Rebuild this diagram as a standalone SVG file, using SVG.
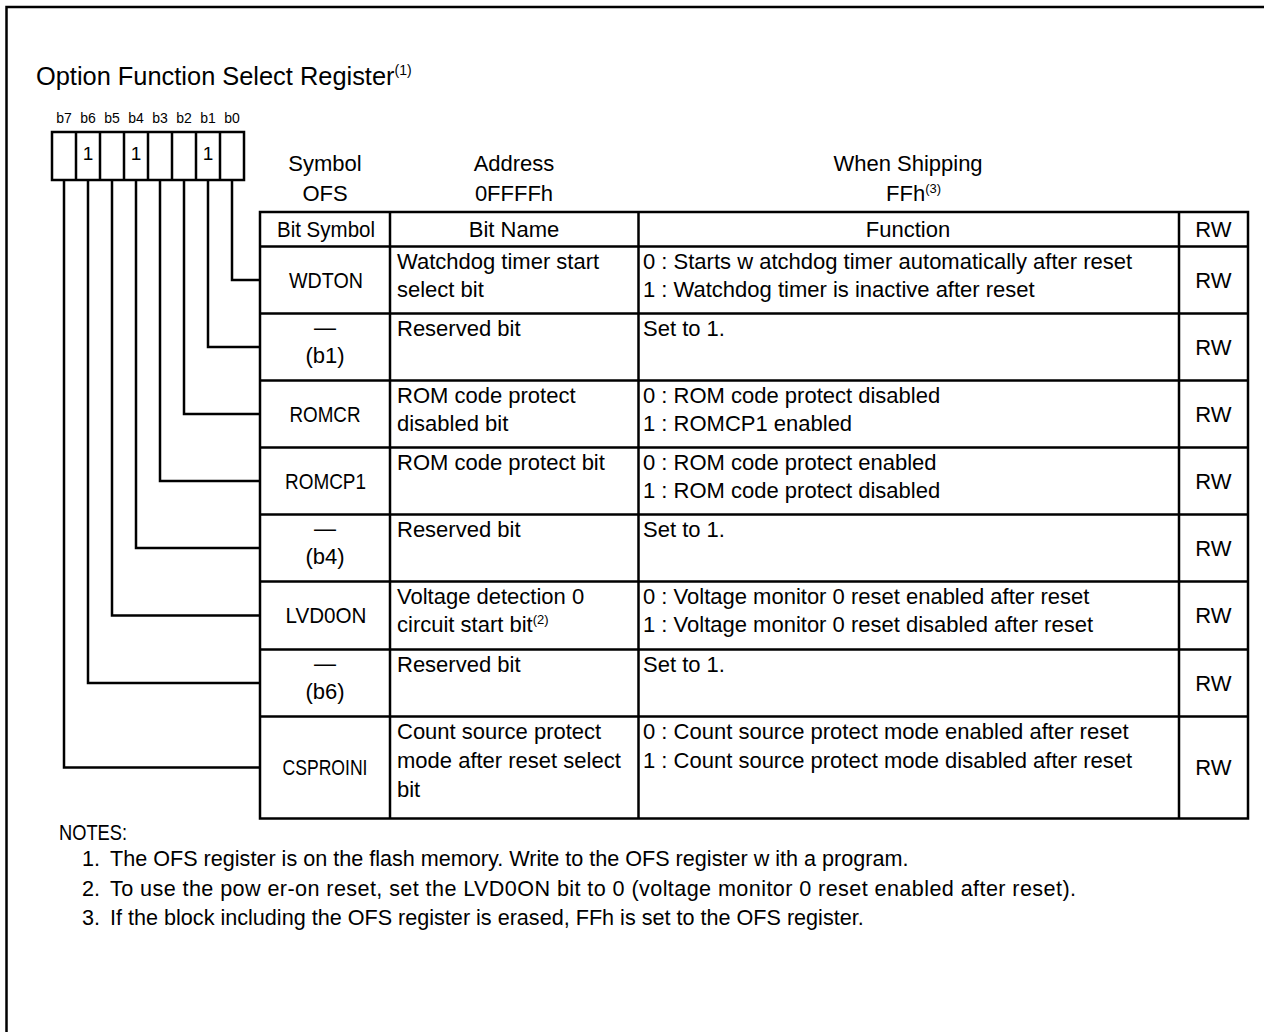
<svg xmlns="http://www.w3.org/2000/svg" width="1264" height="1032" viewBox="0 0 1264 1032">
<style>
.ln{stroke:#000;stroke-width:2.5;fill:none}
.t{font-family:"Liberation Sans",Arial,sans-serif;font-size:22px;fill:#000}
.c{text-anchor:middle}
.sm{font-size:13px}
.bl{font-family:"Liberation Sans",Arial,sans-serif;font-size:14px;fill:#000;text-anchor:middle}
.one{font-family:"Liberation Sans",Arial,sans-serif;font-size:19px;fill:#000;text-anchor:middle}
.n{font-size:21.6px}
</style>
<rect x="0" y="0" width="1264" height="1032" fill="#fff"/>
<g id="frame">
<path class="ln" d="M6.5 1032 V7 H1264"/>
</g>
<g id="title">
<text class="t" x="36" y="84.5" style="font-size:25.4px">Option Function Select Register<tspan style="font-size:14px" dy="-10">(1)</tspan></text>
</g>
<g id="bit-register">
<text class="bl" x="64" y="123">b7</text>
<text class="bl" x="88" y="123">b6</text>
<text class="bl" x="112" y="123">b5</text>
<text class="bl" x="136" y="123">b4</text>
<text class="bl" x="160" y="123">b3</text>
<text class="bl" x="184" y="123">b2</text>
<text class="bl" x="208" y="123">b1</text>
<text class="bl" x="232" y="123">b0</text>
<rect class="ln" x="52" y="132" width="192" height="48"/>
<path class="ln" d="M76 132V180M100 132V180M124 132V180M148 132V180M172 132V180M196 132V180M220 132V180"/>
<text class="one" x="88" y="160">1</text>
<text class="one" x="136" y="160">1</text>
<text class="one" x="208" y="160">1</text>
</g>
<g id="connectors">
<path class="ln" d="M232 180V280H260"/>
<path class="ln" d="M208 180V347H260"/>
<path class="ln" d="M184 180V414H260"/>
<path class="ln" d="M160 180V481H260"/>
<path class="ln" d="M136 180V548H260"/>
<path class="ln" d="M112 180V615.5H260"/>
<path class="ln" d="M88 180V683H260"/>
<path class="ln" d="M64 180V767.5H260"/>
</g>
<g id="header">
<text class="t c" x="325" y="171">Symbol</text>
<text class="t c" x="325" y="201">OFS</text>
<text class="t c" x="514" y="171">Address</text>
<text class="t c" x="514" y="201">0FFFFh</text>
<text class="t c" x="908" y="171">When Shipping</text>
<text class="t" x="886" y="201">FFh<tspan class="sm" dy="-8">(3)</tspan></text>
</g>
<g id="table">
<rect class="ln" x="260" y="212" width="988" height="606.5"/>
<path class="ln" d="M390 212V818.5M638.5 212V818.5M1179 212V818.5"/>
<path class="ln" d="M260 246.5H1248M260 313.5H1248M260 380.5H1248M260 447.5H1248M260 514.5H1248M260 581.5H1248M260 649.5H1248M260 716.5H1248"/>
<text class="t c" x="326" y="237" textLength="98" lengthAdjust="spacingAndGlyphs">Bit Symbol</text>
<text class="t c" x="514" y="237">Bit Name</text>
<text class="t c" x="908" y="237">Function</text>
<text class="t c" x="1213.5" y="237">RW</text>
</g>
<g id="row-b0">
<text class="t c" x="326" y="287.5" textLength="74" lengthAdjust="spacingAndGlyphs">WDTON</text>
<text class="t" x="397" y="268.5">Watchdog timer start</text>
<text class="t" x="397" y="296.5">select bit</text>
<text class="t" x="643" y="268.5">0 : Starts w atchdog timer automatically after reset</text>
<text class="t" x="643" y="296.5">1 : Watchdog timer is inactive after reset</text>
<text class="t c" x="1213.5" y="287.5">RW</text>
</g>
<g id="row-b1">
<text class="t c" x="325" y="335">—</text>
<text class="t c" x="325" y="363">(b1)</text>
<text class="t" x="397" y="335.5">Reserved bit</text>
<text class="t" x="643" y="335.5">Set to 1.</text>
<text class="t c" x="1213.5" y="354.5">RW</text>
</g>
<g id="row-b2">
<text class="t c" x="325" y="421.5" textLength="71" lengthAdjust="spacingAndGlyphs">ROMCR</text>
<text class="t" x="397" y="402.5">ROM code protect</text>
<text class="t" x="397" y="430.5">disabled bit</text>
<text class="t" x="643" y="402.5">0 : ROM code protect disabled</text>
<text class="t" x="643" y="430.5">1 : ROMCP1 enabled</text>
<text class="t c" x="1213.5" y="421.5">RW</text>
</g>
<g id="row-b3">
<text class="t c" x="325.5" y="488.5" textLength="81" lengthAdjust="spacingAndGlyphs">ROMCP1</text>
<text class="t" x="397" y="469.5">ROM code protect bit</text>
<text class="t" x="643" y="469.5">0 : ROM code protect enabled</text>
<text class="t" x="643" y="497.5">1 : ROM code protect disabled</text>
<text class="t c" x="1213.5" y="488.5">RW</text>
</g>
<g id="row-b4">
<text class="t c" x="325" y="536">—</text>
<text class="t c" x="325" y="564">(b4)</text>
<text class="t" x="397" y="536.5">Reserved bit</text>
<text class="t" x="643" y="536.5">Set to 1.</text>
<text class="t c" x="1213.5" y="555.5">RW</text>
</g>
<g id="row-b5">
<text class="t c" x="326" y="623" textLength="81" lengthAdjust="spacingAndGlyphs">LVD0ON</text>
<text class="t" x="397" y="603.5">Voltage detection 0</text>
<text class="t" x="397" y="631.5">circuit start bit<tspan class="sm" dy="-8">(2)</tspan></text>
<text class="t" x="643" y="603.5">0 : Voltage monitor 0 reset enabled after reset</text>
<text class="t" x="643" y="631.5">1 : Voltage monitor 0 reset disabled after reset</text>
<text class="t c" x="1213.5" y="623">RW</text>
</g>
<g id="row-b6">
<text class="t c" x="325" y="671">—</text>
<text class="t c" x="325" y="699">(b6)</text>
<text class="t" x="397" y="671.5">Reserved bit</text>
<text class="t" x="643" y="671.5">Set to 1.</text>
<text class="t c" x="1213.5" y="690.5">RW</text>
</g>
<g id="row-b7">
<text class="t c" x="325" y="775" textLength="85" lengthAdjust="spacingAndGlyphs">CSPROINI</text>
<text class="t" x="397" y="739">Count source protect</text>
<text class="t" x="397" y="768">mode after reset select</text>
<text class="t" x="397" y="797">bit</text>
<text class="t" x="643" y="739">0 : Count source protect mode enabled after reset</text>
<text class="t" x="643" y="768">1 : Count source protect mode disabled after reset</text>
<text class="t c" x="1213.5" y="775">RW</text>
</g>
<g id="notes">
<text class="t n" x="59" y="840" textLength="68" lengthAdjust="spacingAndGlyphs">NOTES:</text>
<text class="t n" x="82" y="866">1.</text>
<text class="t n" x="110" y="866">The OFS register is on the flash memory. Write to the OFS register w ith a program.</text>
<text class="t n" x="82" y="895.5">2.</text>
<text class="t n" x="110" y="895.5" textLength="966" lengthAdjust="spacing">To use the pow er-on reset, set the LVD0ON bit to 0 (voltage monitor 0 reset enabled after reset).</text>
<text class="t n" x="82" y="925">3.</text>
<text class="t n" x="110" y="925">If the block including the OFS register is erased, FFh is set to the OFS register.</text>
</g>
</svg>
